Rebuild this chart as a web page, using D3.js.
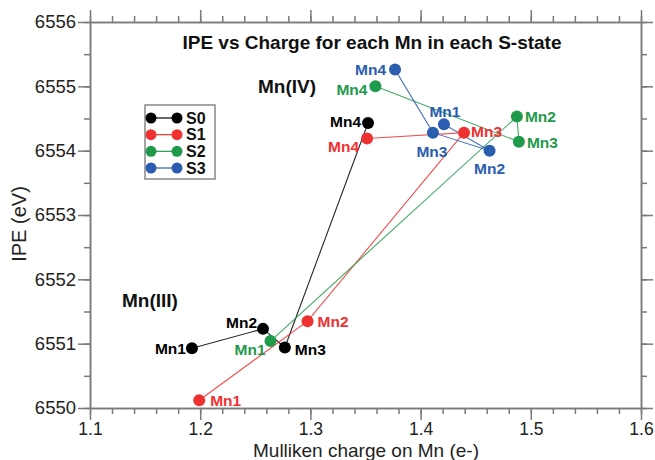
<!DOCTYPE html>
<html>
<head>
<meta charset="utf-8">
<script src="https://cdn.jsdelivr.net/npm/d3@7"></script>
<style>
  html, body { margin: 0; padding: 0; background: #fff; }
  svg { display: block; font-family: "Liberation Sans", Arial, Helvetica, sans-serif; }
</style>
</head>
<body>
<svg id="chart" width="655" height="460"></svg>
<script>
// ---- data ----
const mnLabels = ["Mn1", "Mn2", "Mn3", "Mn4"];
const sStates = ["S0", "S1", "S2", "S3"];
const charge = {
  S0: [1.1925, 1.2570, 1.2768, 1.3523],
  S1: [1.1991, 1.2974, 1.4394, 1.3514],
  S2: [1.2638, 1.4874, 1.4892, 1.3590],
  S3: [1.4212, 1.4626, 1.4112, 1.3768]
};
const ipe = {
  S0: [6550.93, 6551.23, 6550.94, 6554.43],
  S1: [6550.12, 6551.35, 6554.28, 6554.19],
  S2: [6551.04, 6554.53, 6554.14, 6555.00],
  S3: [6554.41, 6554.00, 6554.28, 6555.26]
};
const xTicks = [1.1, 1.2, 1.3, 1.4, 1.5, 1.6];
const yTicks = [6550, 6551, 6552, 6553, 6554, 6555, 6556];
const xMinor = d3.range(1.1, 1.6001, 0.02);
const yMinor = d3.range(6550, 6556.001, 0.5);

// ---- style / layout ----
const colors = { S0: "#000000", S1: "#ee3131", S2: "#1f9a4a", S3: "#2a5db0" };
// label offsets (pixels, relative to point): [dx, dy, anchor]
const labelPos = {
  S0: [[-6, 0, "end"], [-6, -6, "end"], [10, 2, "start"], [-7, -1, "end"]],
  S1: [[11, 0, "start"], [10, 0, "start"], [7, -1, "start"], [-8, 8, "end"]],
  S2: [[-5, 8, "end"], [8, 0, "start"], [8, 1, "start"], [-8, 3, "end"]],
  S3: [[1, -13, "middle"], [0, 18, "middle"], [-1, 19, "middle"], [-9, 0, "end"]]
};

const svg = d3.select("#chart");
const x = d3.scaleLinear().domain([1.1, 1.6]).range([90, 641]);
const y = d3.scaleLinear().domain([6550, 6556]).range([408, 22]);
const axisColor = "#7a7a7a";

function styleAxis(g, fs) {
  g.selectAll("path.domain").attr("stroke", axisColor).attr("stroke-width", 1.5);
  g.selectAll(".tick line").attr("stroke", axisColor).attr("stroke-width", 1.5);
  g.selectAll(".tick text").attr("fill", "#222").style("font-size", (fs || 17) + "px")
    .style("font-family", "'Liberation Sans', Arial, sans-serif");
}

// minor ticks
svg.append("g").attr("transform", "translate(0,408)")
  .call(d3.axisBottom(x).tickValues(xMinor).tickSize(6).tickSizeOuter(0).tickFormat(""))
  .call(styleAxis);
svg.append("g").attr("transform", "translate(0,22)")
  .call(d3.axisTop(x).tickValues(xMinor).tickSize(6).tickSizeOuter(0).tickFormat(""))
  .call(styleAxis);
svg.append("g").attr("transform", "translate(90,0)")
  .call(d3.axisLeft(y).tickValues(yMinor).tickSize(6).tickSizeOuter(0).tickFormat(""))
  .call(styleAxis);
svg.append("g").attr("transform", "translate(641,0)")
  .call(d3.axisRight(y).tickValues(yMinor).tickSize(6).tickSizeOuter(0).tickFormat(""))
  .call(styleAxis);

// major ticks
svg.append("g").attr("transform", "translate(0,408)")
  .call(d3.axisBottom(x).tickValues(xTicks).tickSize(12).tickSizeOuter(0).tickPadding(3).tickFormat(d3.format(".1f")))
  .call(g => styleAxis(g, 17.5));
svg.append("g").attr("transform", "translate(0,22)")
  .call(d3.axisTop(x).tickValues(xTicks).tickSize(12).tickSizeOuter(0).tickFormat(""))
  .call(styleAxis);
svg.append("g").attr("transform", "translate(90,0)")
  .call(d3.axisLeft(y).tickValues(yTicks).tickSize(12).tickSizeOuter(0).tickPadding(2).tickFormat(d3.format("d")))
  .call(g => styleAxis(g, 18.5));
svg.append("g").attr("transform", "translate(641,0)")
  .call(d3.axisRight(y).tickValues(yTicks).tickSize(12).tickSizeOuter(0).tickFormat(""))
  .call(styleAxis);

// axis titles
svg.append("text").attr("x", 366).attr("y", 457).attr("text-anchor", "middle")
  .style("font-size", "19px").attr("fill", "#222").text("Mulliken charge on Mn (e-)");
svg.append("text").attr("transform", "translate(26,224) rotate(-90)").attr("text-anchor", "middle")
  .style("font-size", "20px").attr("fill", "#222").text("IPE (eV)");

// title and annotations
svg.append("text").attr("x", 372).attr("y", 49).attr("text-anchor", "middle")
  .style("font-size", "19px").style("font-weight", "bold").attr("fill", "#111")
  .text("IPE vs Charge for each Mn in each S-state");
svg.append("text").attr("x", 258).attr("y", 93)
  .style("font-size", "19px").style("font-weight", "bold").attr("fill", "#111").text("Mn(IV)");
svg.append("text").attr("x", 122).attr("y", 307)
  .style("font-size", "19px").style("font-weight", "bold").attr("fill", "#111").text("Mn(III)");

// series
const line = d3.line().x(d => x(d[0])).y(d => y(d[1]));
sStates.forEach(s => {
  const pts = charge[s].map((c, i) => [c, ipe[s][i]]);
  svg.append("path").datum(pts).attr("d", line)
    .attr("fill", "none").attr("stroke", colors[s]).attr("stroke-width", 1.1).attr("opacity", 0.85);
});
sStates.forEach(s => {
  const pts = charge[s].map((c, i) => [c, ipe[s][i]]);
  svg.append("g").selectAll("circle").data(pts).join("circle")
    .attr("cx", d => x(d[0])).attr("cy", d => y(d[1])).attr("r", 6)
    .attr("fill", colors[s]);
  svg.append("g").selectAll("text").data(pts).join("text")
    .attr("x", (d, i) => x(d[0]) + labelPos[s][i][0])
    .attr("y", (d, i) => y(d[1]) + labelPos[s][i][1])
    .attr("dy", "0.35em")
    .attr("text-anchor", (d, i) => labelPos[s][i][2])
    .style("font-size", "15.5px").style("font-weight", "bold")
    .attr("fill", colors[s])
    .text((d, i) => mnLabels[i]);
});

// legend
const lg = svg.append("g");
lg.append("rect").attr("x", 145).attr("y", 105).attr("width", 70).attr("height", 74)
  .attr("fill", "#fff").attr("stroke", "#888").attr("stroke-width", 1.5);
const rowY = d3.scalePoint().domain(sStates).range([118, 168]);
sStates.forEach(s => {
  const yy = rowY(s);
  lg.append("line").attr("x1", 151).attr("x2", 177).attr("y1", yy).attr("y2", yy)
    .attr("stroke", colors[s]).attr("stroke-width", 1.2);
  lg.append("circle").attr("cx", 151).attr("cy", yy).attr("r", 5.5).attr("fill", colors[s]);
  lg.append("circle").attr("cx", 177).attr("cy", yy).attr("r", 5.5).attr("fill", colors[s]);
  lg.append("text").attr("x", 186).attr("y", yy).attr("dy", "0.36em")
    .style("font-size", "16px").style("font-weight", "bold").attr("fill", "#111").text(s);
});
</script>
</body>
</html>
